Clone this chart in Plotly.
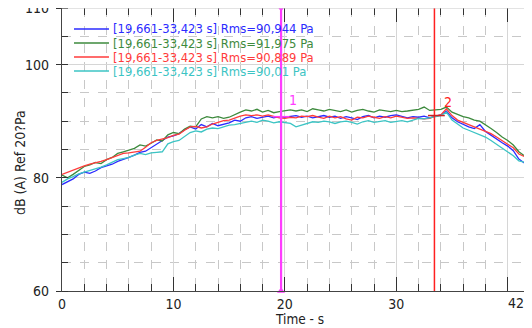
import plotly.graph_objects as go

# ---------------- data ----------------
time_s = [i * 0.5 for i in range(85)]  # 0 .. 42 s sample grid

blue_db = [78.8, 79.3, 79.8, 80.6, 81.0, 80.8, 81.2, 81.8, 82.1, 82.4,
           82.9, 83.2, 83.6, 84.0, 84.5, 84.7, 85.3, 86.0, 86.5, 87.2,
           87.4, 87.8, 88.5, 89.0, 88.6, 89.4, 89.0, 89.6, 89.2, 89.5,
           89.7, 90.2, 90.0, 90.6, 90.8, 90.5, 90.7, 90.9, 90.6, 90.8,
           90.7, 90.9, 91.0, 90.7, 90.9, 90.6, 90.8, 91.0, 90.7, 90.9,
           90.5, 90.8, 90.6, 90.3, 90.8, 91.0, 90.6, 90.9, 90.7, 91.0,
           91.1, 90.9, 90.6, 90.8, 90.7, 90.9, 90.6, 90.9, 91.1, 91.8,
           90.6, 89.9, 89.4, 89.0, 88.7, 89.4, 88.2, 87.5, 86.8, 86.2,
           85.6, 84.8, 83.3, 82.6, 82.2]

green_db = [80.5, 80.0, 80.6, 81.3, 82.0, 82.3, 82.7, 82.5, 83.2, 83.6,
            84.3, 84.6, 84.9, 85.2, 85.8, 85.6, 86.1, 86.7, 86.5, 87.6,
            88.0, 87.8, 88.6, 89.1, 89.0, 90.4, 90.8, 90.6, 90.8, 90.5,
            90.7, 91.2, 91.6, 92.0, 91.8, 92.1, 91.6, 91.9, 91.5, 91.7,
            91.9, 92.0, 91.8, 92.0, 91.7, 92.2, 92.0, 91.8, 92.1, 91.9,
            91.7, 92.0, 91.6, 91.9, 92.1, 91.8, 91.6, 92.0, 91.8, 91.7,
            91.9, 91.7, 91.8, 92.0, 92.1, 92.5, 91.9, 92.0, 92.1, 92.5,
            91.6, 91.2, 90.8, 90.6, 90.2, 90.0, 89.4, 88.7, 88.0, 87.2,
            86.6, 85.8, 84.6, 83.9, 83.5]

red_db = [80.6, 81.0, 81.3, 81.8, 82.1, 82.4, 82.6, 82.9, 83.2, 83.6,
          84.0, 84.3, 84.4, 84.6, 84.7, 85.4, 86.2, 86.6, 86.8, 87.1,
          87.5, 87.7, 88.4, 89.0, 89.1, 88.8, 89.0, 89.5, 89.8, 90.1,
          90.2, 90.6, 90.9, 91.1, 91.0, 91.1, 90.9, 91.1, 90.8, 90.6,
          90.5, 90.7, 90.6, 90.9, 90.8, 91.0, 90.7, 90.5, 90.9, 90.6,
          90.8, 90.4, 90.2, 90.7, 90.6, 90.9, 90.7, 90.5, 90.8, 90.6,
          90.9, 90.7, 90.5, 90.6, 90.5, 90.4, 90.5, 90.9, 91.1, 92.2,
          91.0, 90.2, 89.8, 89.4, 89.0, 88.7, 88.3, 87.8, 87.2, 86.6,
          86.0, 85.3, 84.2, 83.7, 83.3]

cyan_db = [79.2, 79.8, 80.2, 80.7, 81.0, 81.3, 81.5, 81.9, 82.3, 82.7,
           83.2, 83.4, 83.6, 84.0, 84.3, 84.1, 84.4, 84.5, 84.6, 86.0,
           86.4, 86.6, 87.3, 88.0, 88.3, 88.1, 88.6, 88.8, 88.7, 89.0,
           89.3, 89.4, 89.6, 89.9, 90.0, 89.8, 90.2, 90.0, 89.7, 89.9,
           89.8, 89.6, 89.0, 89.3, 89.6, 89.9, 89.8, 90.0, 89.9, 89.6,
           89.9, 90.0, 89.8, 89.5, 89.9, 90.1, 89.8, 89.9, 90.1, 89.8,
           90.0, 90.1, 89.9, 90.2, 90.5, 90.4, 90.6, 90.8, 91.0, 91.6,
           90.2, 89.5, 88.8, 88.4, 88.0, 87.5, 87.2, 86.6, 85.9, 85.3,
           84.6, 83.9, 83.0, 82.7, 82.5]

series_names = ["[19,661-33,423 s] Rms=90,944 Pa",
                "[19,661-33,423 s] Rms=91,975 Pa",
                "[19,661-33,423 s] Rms=90,889 Pa",
                "[19,661-33,423 s] Rms=90,01 Pa"]
series_colors = ["#2b2bff", "#3d8a3d", "#ff3b3b", "#3cc4c4"]

cursor_times = [19.661, 33.423]
cursor_labels = ["1", "2"]
marker_points_t = [19.661, 33.6]
marker_points_db = [90.8, 91.0]
label_points_t = [20.7, 34.6]
label_points_db = [93.8, 93.4]

x_tickvals = [0, 10, 20, 30, 40, 42]
x_ticktext = ["0", "10", "20", "30", "", ""]
x_end_label = "42"
y_tickvals = [60, 80, 100, 110]
y_ticktext = ["60", "80", "100", "110"]
x_title = "Time - s"
y_title = "dB (A) Ref 20?Pa"

FONT = "Liberation Sans Narrow, DejaVu Sans Condensed, Arial Narrow, sans-serif"

# ---------------- figure ----------------
# The page body adds an 8px offset, so the figure is 8px smaller than the window.
fig = go.Figure()

for vals, name, col in zip([blue_db, green_db, red_db, cyan_db], series_names, series_colors):
    fig.add_trace(go.Scatter(x=time_s, y=vals, mode="lines", name=name,
                             line=dict(color=col, width=1.3), showlegend=False))

# cursors
cursor_colors = ["#ff3cff", "#ff2020"]
cursor_widths = [2.2, 1.5]
for ct, cc, cw in zip(cursor_times, cursor_colors, cursor_widths):
    fig.add_trace(go.Scatter(x=[ct, ct], y=[60, 110], mode="lines",
                             line=dict(color=cc, width=cw), showlegend=False,
                             hoverinfo="skip"))

# triangles on magenta cursor
fig.add_trace(go.Scatter(x=[cursor_times[0], cursor_times[0]], y=[110, 60],
                         mode="markers", cliponaxis=False, showlegend=False,
                         marker=dict(symbol=["triangle-down", "triangle-up"],
                                     size=7, color="#ff3cff")))

# marker crosses
fig.add_trace(go.Scatter(x=marker_points_t, y=marker_points_db, mode="markers",
                         showlegend=False,
                         marker=dict(symbol="line-ew", size=12,
                                     line=dict(color=["#ff3cff", "#cc2020"], width=1.5))))

for lt, ld, lab, cc in zip(label_points_t, label_points_db, cursor_labels, cursor_colors):
    fig.add_annotation(x=lt, y=ld, text=lab, showarrow=False,
                       font=dict(family=FONT, size=14, color=cc))

# manual legend (tight row spacing as in the original)
row_px = [29, 43, 57, 71]
for py, name, col in zip(row_px, series_names, series_colors):
    yp = (291 - py) / 283
    fig.add_shape(type="line", xref="paper", yref="paper",
                  x0=0.0256, x1=0.1004, y0=yp, y1=yp,
                  line=dict(color=col, width=1.5))
    fig.add_annotation(xref="paper", yref="paper", x=0.104, y=yp,
                       xanchor="left", yanchor="middle", showarrow=False,
                       text=name, font=dict(family=FONT, size=12.9, color=col))

# end-of-axis label "42", right-aligned inside the figure like the original
fig.add_annotation(x=42, xref="x", yref="paper", y=0, yshift=-12,
                   xanchor="right", yanchor="middle", xshift=-4, showarrow=False,
                   text=x_end_label, font=dict(family=FONT, size=14, color="#222222"))

# axis titles
fig.add_annotation(xref="paper", yref="paper", x=0.5085, y=-0.098,
                   xanchor="center", yanchor="middle", showarrow=False,
                   text=x_title, font=dict(family=FONT, size=13.5, color="#222222"))
fig.add_annotation(xref="paper", yref="paper", x=-0.0897, y=0.452,
                   xanchor="center", yanchor="middle", showarrow=False,
                   textangle=-90,
                   text=y_title, font=dict(family=FONT, size=14, color="#222222"))

# top / right border in light grey
fig.add_shape(type="line", xref="paper", yref="paper", x0=0, x1=1, y0=1, y1=1,
              line=dict(color="#c8c8c8", width=1.2), layer="above")
fig.add_shape(type="line", xref="paper", yref="paper", x0=1, x1=1, y0=0, y1=1,
              line=dict(color="#c8c8c8", width=1.2), layer="above")

fig.update_layout(
    width=524, height=320,
    margin=dict(l=54, r=2, t=0, b=37, autoexpand=False),
    paper_bgcolor="white", plot_bgcolor="white",
    font=dict(family=FONT, size=14, color="#222222"),
    xaxis=dict(range=[0, 42], tickvals=x_tickvals, ticktext=x_ticktext,
               automargin=False, ticklabeloverflow="allow",
               showgrid=True, gridcolor="#d6d6d6", gridwidth=1,
               zeroline=False, showline=True, linecolor="#444444", linewidth=1.2,
               mirror="ticks", ticks="inside", ticklen=14, tickcolor="#333333",
               tickfont=dict(family=FONT, size=14, color="#222222"),
               ticklabelstandoff=0,
               minor=dict(dtick=2, tick0=0, ticks="inside", ticklen=7,
                          tickcolor="#333333", showgrid=True,
                          gridcolor="#c8c8c8", griddash="dash")),
    yaxis=dict(range=[60, 110], tickvals=y_tickvals, ticktext=y_ticktext,
               automargin=False, ticklabeloverflow="allow",
               showgrid=True, gridcolor="#d6d6d6", gridwidth=1,
               zeroline=False, showline=True, linecolor="#444444", linewidth=1.2,
               mirror="ticks", ticks="outside", ticklen=5, tickcolor="#333333",
               tickfont=dict(family=FONT, size=14, color="#222222"),
               ticklabelstandoff=4,
               minor=dict(dtick=5, tick0=60, ticks="inside", ticklen=6,
                          tickcolor="#333333", showgrid=True,
                          gridcolor="#c8c8c8", griddash="dash")),
)

fig.write_html("out.html")
